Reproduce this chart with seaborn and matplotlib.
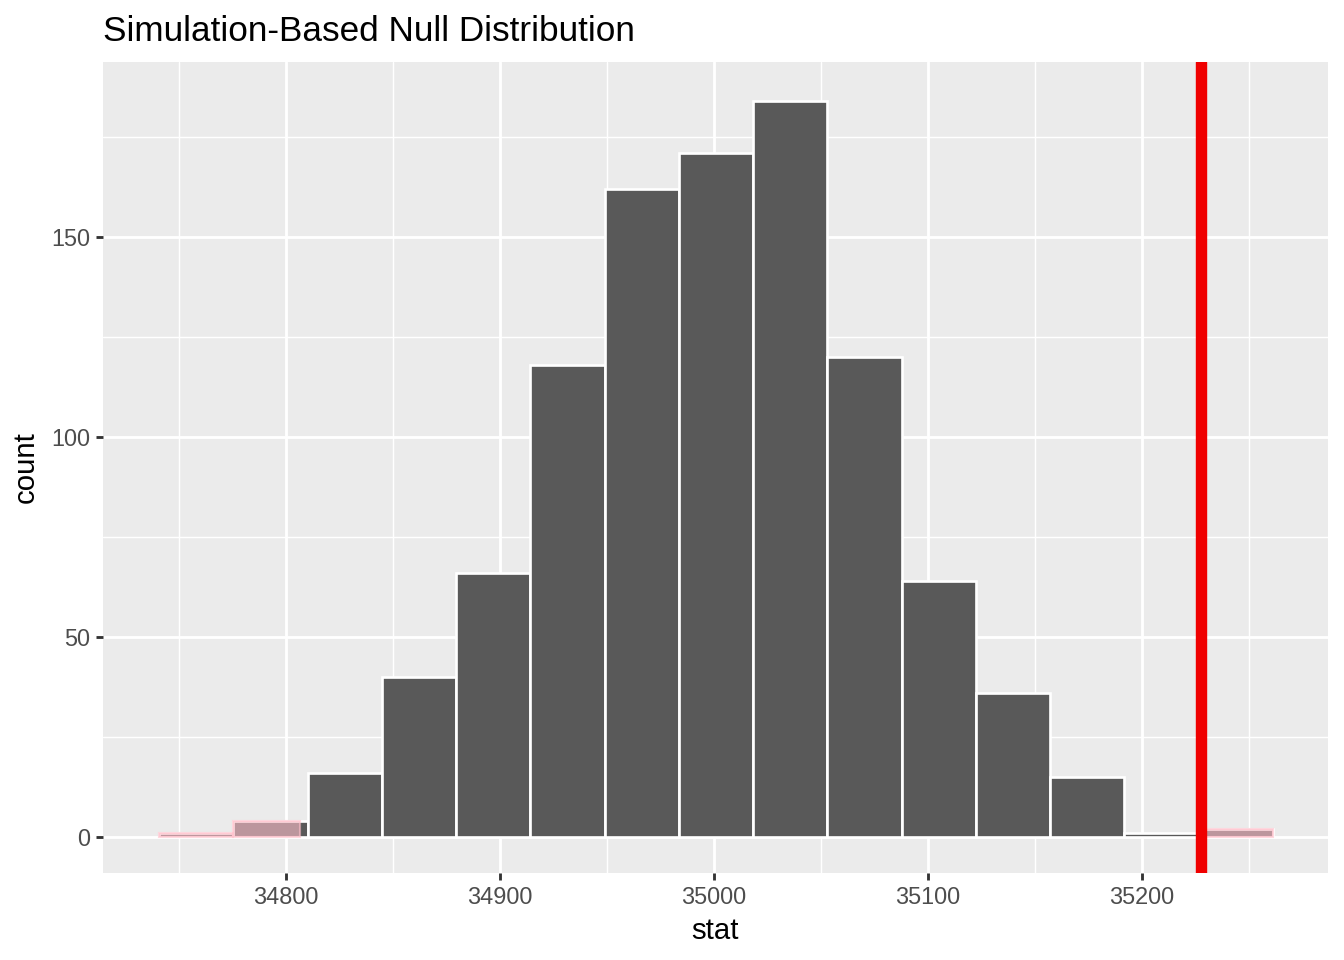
import matplotlib
matplotlib.use("Agg")
import matplotlib.pyplot as plt
import seaborn as sns
import numpy as np
import pandas as pd

# histogram of the simulated null statistics (15 bins)
bin_edges = [34740.7, 34775.4, 34810.1, 34844.8, 34879.5, 34914.2, 34948.9, 34983.6,
             35018.3, 35053.0, 35087.7, 35122.4, 35157.1, 35191.8, 35226.5, 35261.2]
bin_counts = [1, 4, 16, 40, 66, 118, 162, 171, 184, 120, 64, 36, 15, 1, 2]

obs_stat = 35227.6
mirror_stat = 34806.5

x_ticks = [34800, 34900, 35000, 35100, 35200]
y_ticks = [0, 50, 100, 150]

edges = np.array(bin_edges)
centers = (edges[:-1] + edges[1:]) / 2
df = pd.DataFrame({"stat": centers, "count": bin_counts})

sns.set_theme(style="darkgrid", rc={
    "axes.facecolor": "#EBEBEB",
    "grid.color": "white",
    "text.color": "black",
    "axes.labelcolor": "black",
})
plt.rcParams["font.family"] = ["Liberation Sans", "DejaVu Sans"]

fig = plt.figure(figsize=(7, 5), dpi=192)
ax = fig.add_axes([0.0766, 0.0906, 0.988 - 0.0766, 0.9354 - 0.0906])

sns.histplot(data=df, x="stat", weights="count", bins=bin_edges, ax=ax,
             color="#595959", alpha=1, edgecolor="white", linewidth=1.0, zorder=2)

# shade the two-sided p-value region following the histogram shape
shade_left, shade_w, shade_h = [], [], []
for lo, hi, c in zip(edges[:-1], edges[1:], bin_counts):
    a, b = lo, min(hi, mirror_stat)
    if b > a:
        shade_left.append(a); shade_w.append(b - a); shade_h.append(c)
    a, b = max(lo, obs_stat), hi
    if b > a:
        shade_left.append(a); shade_w.append(b - a); shade_h.append(c)
ax.bar(shade_left, shade_h, width=shade_w, align="edge", color="pink",
       alpha=0.6, edgecolor="pink", linewidth=0.8, zorder=3)

ax.axvline(obs_stat, color="#F00000", linewidth=4.27, zorder=4)

ax.set_xlim(34714.5, 35286.9)
ax.set_ylim(-9, 193.75)
ax.set_xticks(x_ticks)
ax.set_yticks(y_ticks)
ax.set_xticks([34750, 34850, 34950, 35050, 35150, 35250], minor=True)
ax.set_yticks([25, 75, 125, 175], minor=True)
ax.grid(which="major", color="white", linewidth=1.07)
ax.grid(which="minor", color="white", linewidth=0.53)
ax.set_axisbelow(True)
for s in ax.spines.values():
    s.set_visible(False)

ax.tick_params(axis="both", which="major", labelsize=8.8, labelcolor="#4D4D4D",
               color="#333333", length=2.75, width=1.07, pad=2.2, bottom=True, left=True)
ax.tick_params(axis="both", which="minor", length=0)
ax.set_xlabel("stat", fontsize=11, labelpad=3)
ax.set_ylabel("count", fontsize=11, labelpad=4)
ax.set_title("Simulation-Based Null Distribution", fontsize=13.2, loc="left", pad=8)

fig.savefig("out.png", dpi=192)
